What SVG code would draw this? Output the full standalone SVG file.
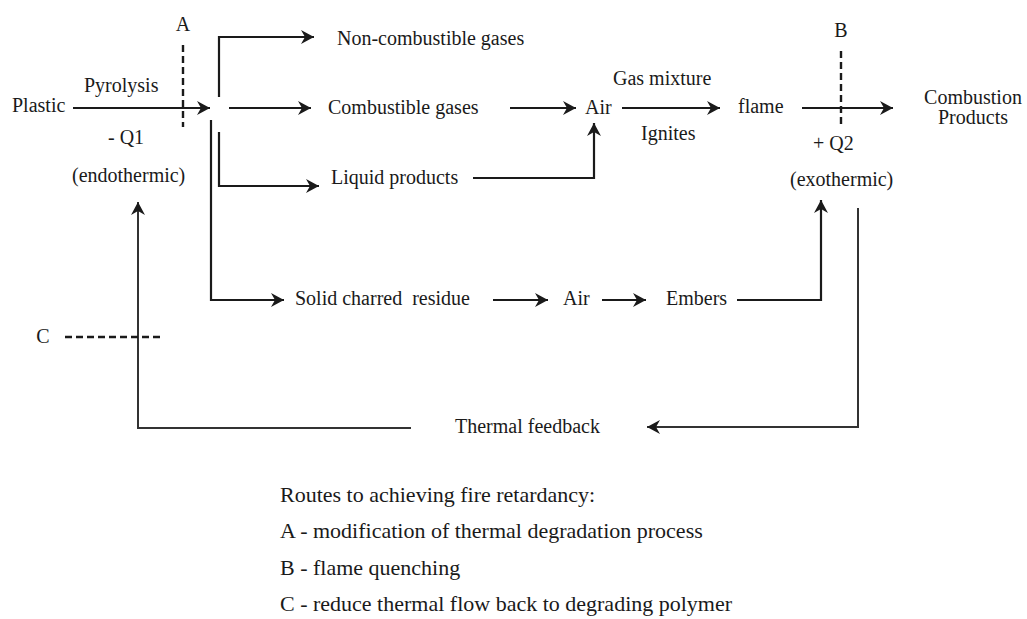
<svg xmlns="http://www.w3.org/2000/svg" width="1027" height="619" viewBox="0 0 1027 619">
<style>
text{font-family:"Liberation Serif","Times New Roman",serif;font-size:20px;fill:#1a1a1a}
.lg{font-size:22px}
.mid{text-anchor:middle}
.ln{fill:none;stroke:#1a1a1a;stroke-width:2.2}
.fb{fill:none;stroke:#333;stroke-width:2}
.ds{fill:none;stroke:#1a1a1a;stroke-width:2.4;stroke-dasharray:7,4}
</style>
<defs>
<marker id="ah" markerUnits="userSpaceOnUse" markerWidth="16" markerHeight="16" refX="13" refY="7" orient="auto">
<path d="M0,0 L13,7 L0,14 L4,7 z" fill="#1a1a1a"/>
</marker>
</defs>
<rect width="1027" height="619" fill="#fff"/>
<g id="connectors">
<path class="ln" d="M73,108 H210" marker-end="url(#ah)"/>
<path class="ln" d="M219,97 V37 H314" marker-end="url(#ah)"/>
<path class="ln" d="M229,108 H311" marker-end="url(#ah)"/>
<path class="ln" d="M219,132 V186 H319" marker-end="url(#ah)"/>
<path class="ln" d="M211,120 V300 H284" marker-end="url(#ah)"/>
<path class="ln" d="M510,108 H576" marker-end="url(#ah)"/>
<path class="ln" d="M473,178 H594 V123" marker-end="url(#ah)"/>
<path class="ln" d="M622,108 H720" marker-end="url(#ah)"/>
<path class="ln" d="M802,108 H893" marker-end="url(#ah)"/>
<path class="ln" d="M493,300 H548" marker-end="url(#ah)"/>
<path class="ln" d="M602,300 H646" marker-end="url(#ah)"/>
<path class="ln" d="M737,300 H821 V200" marker-end="url(#ah)"/>
<path class="fb" d="M858,208 V427 H647" marker-end="url(#ah)"/>
<path class="fb" d="M411,428 H138 V202" marker-end="url(#ah)"/>
<path class="ds" d="M183,45 V127"/>
<path class="ds" d="M841,51 V125"/>
<path class="ds" d="M65,337 H162"/>
</g>
<g id="plastic"><text x="12" y="112">Plastic</text></g>
<g id="pyrolysis"><text x="84" y="92">Pyrolysis</text></g>
<g id="q1"><text x="108" y="144">- Q1</text><text x="72" y="182">(endothermic)</text></g>
<g id="labelA"><text class="mid" x="183" y="31">A</text></g>
<g id="noncomb"><text x="337" y="45">Non-combustible gases</text></g>
<g id="comb"><text x="328" y="114">Combustible gases</text></g>
<g id="liquid"><text x="331" y="184">Liquid products</text></g>
<g id="air1"><text x="585" y="114">Air</text></g>
<g id="gasmix"><text x="613" y="85">Gas mixture</text></g>
<g id="ignites"><text x="641" y="140">Ignites</text></g>
<g id="flame"><text x="738" y="113">flame</text></g>
<g id="labelB"><text class="mid" x="841" y="37">B</text></g>
<g id="q2"><text x="813" y="150">+ Q2</text><text x="790" y="186">(exothermic)</text></g>
<g id="products"><text class="mid" x="973" y="104">Combustion</text><text class="mid" x="973" y="124">Products</text></g>
<g id="solid"><text x="295" y="305" xml:space="preserve">Solid charred  residue</text></g>
<g id="air2"><text x="563" y="305">Air</text></g>
<g id="embers"><text x="666" y="305">Embers</text></g>
<g id="labelC"><text class="mid" x="43" y="343">C</text></g>
<g id="feedback"><text x="455" y="433">Thermal feedback</text></g>
<g id="legend">
<text class="lg" x="280" y="502">Routes to achieving fire retardancy:</text>
<text class="lg" x="280" y="538">A - modification of thermal degradation process</text>
<text class="lg" x="280" y="575">B - flame quenching</text>
<text class="lg" x="280" y="611">C - reduce thermal flow back to degrading polymer</text>
</g>
</svg>
